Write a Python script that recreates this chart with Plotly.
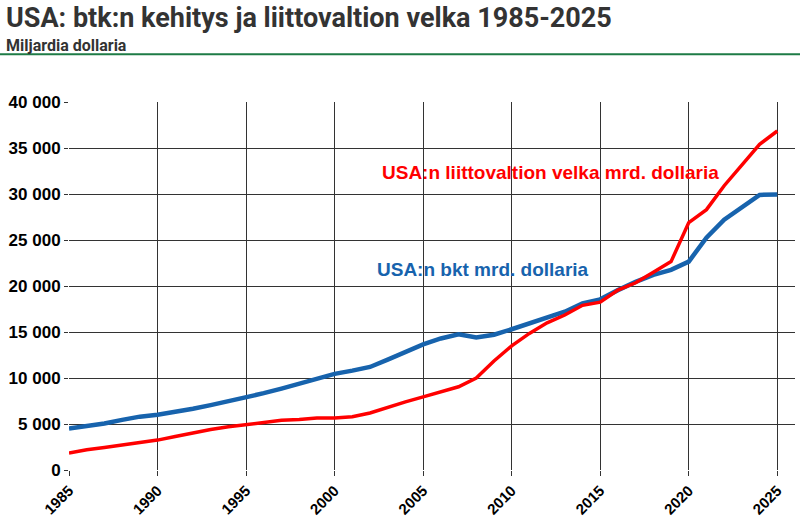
import plotly.graph_objects as go

years = list(range(1985, 2026))

gdp = [4500, 4750, 5050, 5450, 5800, 6000, 6300, 6650, 7050, 7450,
       7850, 8350, 8850, 9350, 9950, 10450, 10800, 11200, 12000, 12850,
       13650, 14300, 14750, 14400, 14700, 15300, 15950, 16500, 17200, 18100,
       18550, 19550, 20450, 21200, 21750, 22650, 25250, 27200, 28600, 29900,
       29950]

debt = [1850, 2200, 2450, 2700, 2950, 3250, 3650, 4050, 4400, 4700,
        4950, 5200, 5400, 5500, 5650, 5650, 5800, 6200, 6850, 7400,
        7950, 8500, 9050, 10000, 11850, 13500, 14850, 16000, 16850, 17900,
        18250, 19550, 20350, 21500, 22650, 26900, 28300, 30900, 33150, 35400,
        36850]

y_ticks = [0, 5000, 10000, 15000, 20000, 25000, 30000, 35000, 40000]
y_labels = ['0', '5 000', '10 000', '15 000', '20 000', '25 000', '30 000', '35 000', '40 000']
x_ticks = [1985, 1990, 1995, 2000, 2005, 2010, 2015, 2020, 2025]

red = '#ff0000'
blue = '#1763ad'

fig = go.Figure()
fig.add_trace(go.Scatter(
    x=years, y=gdp, mode='lines',
    line=dict(color=blue, width=4.5),
    name='USA:n bkt mrd. dollaria'
))
fig.add_trace(go.Scatter(
    x=years, y=debt, mode='lines',
    line=dict(color=red, width=3.5),
    name='USA:n liittovaltion velka mrd. dollaria'
))

fig.add_annotation(
    x=2012.2, y=32300, text='USA:n liittovaltion velka mrd. dollaria',
    showarrow=False, xanchor='center', yanchor='middle',
    font=dict(family='Liberation Sans, Arial', size=19, color=red, weight='bold')
)
fig.add_annotation(
    x=2008.4, y=21750, text='USA:n bkt mrd. dollaria',
    showarrow=False, xanchor='center', yanchor='middle',
    font=dict(family='Liberation Sans, Arial', size=19, color=blue, weight='bold')
)

# title block
fig.add_annotation(
    xref='paper', yref='paper', x=-0.089, y=1.276, xanchor='left', yanchor='top',
    text='USA: btk:n kehitys ja liittovaltion velka 1985-2025', showarrow=False,
    font=dict(family='Liberation Sans Narrow, Roboto, Arial', size=27, color='#333333', weight='bold')
)
fig.add_annotation(
    xref='paper', yref='paper', x=-0.089, y=1.184, xanchor='left', yanchor='top',
    text='Miljardia dollaria', showarrow=False,
    font=dict(family='Liberation Sans Narrow, Roboto, Arial', size=16, color='#333333', weight='bold')
)
fig.add_shape(
    type='line', xref='paper', yref='paper',
    x0=-0.1, x1=1.01, y0=1.13, y1=1.13,
    line=dict(color='#1e7b46', width=2)
)

fig.update_xaxes(
    range=[1985, 2026], tickvals=x_ticks, tickangle=-45,
    showgrid=True, gridcolor='#333333', gridwidth=1,
    ticks='outside', ticklen=5, tickcolor='#333333',
    zeroline=False, showline=False,
    tickfont=dict(family='Liberation Sans, Arial', size=15, color='black', weight='bold')
)
fig.update_yaxes(
    range=[0, 40000], tickvals=y_ticks, ticktext=y_labels,
    showgrid=True, gridcolor='#333333', gridwidth=1,
    ticks='outside', ticklen=4, tickcolor='#333333',
    zeroline=False, showline=False,
    tickfont=dict(family='Liberation Sans, Arial', size=17, color='black', weight='bold')
)

fig.update_layout(
    width=800, height=518,
    margin=dict(l=69, r=5, t=102, b=48, autoexpand=False),
    plot_bgcolor='white', paper_bgcolor='white',
    showlegend=False
)

fig.write_html('out.html', config={'displayModeBar': False},
               post_script="document.body.style.margin='0';")
